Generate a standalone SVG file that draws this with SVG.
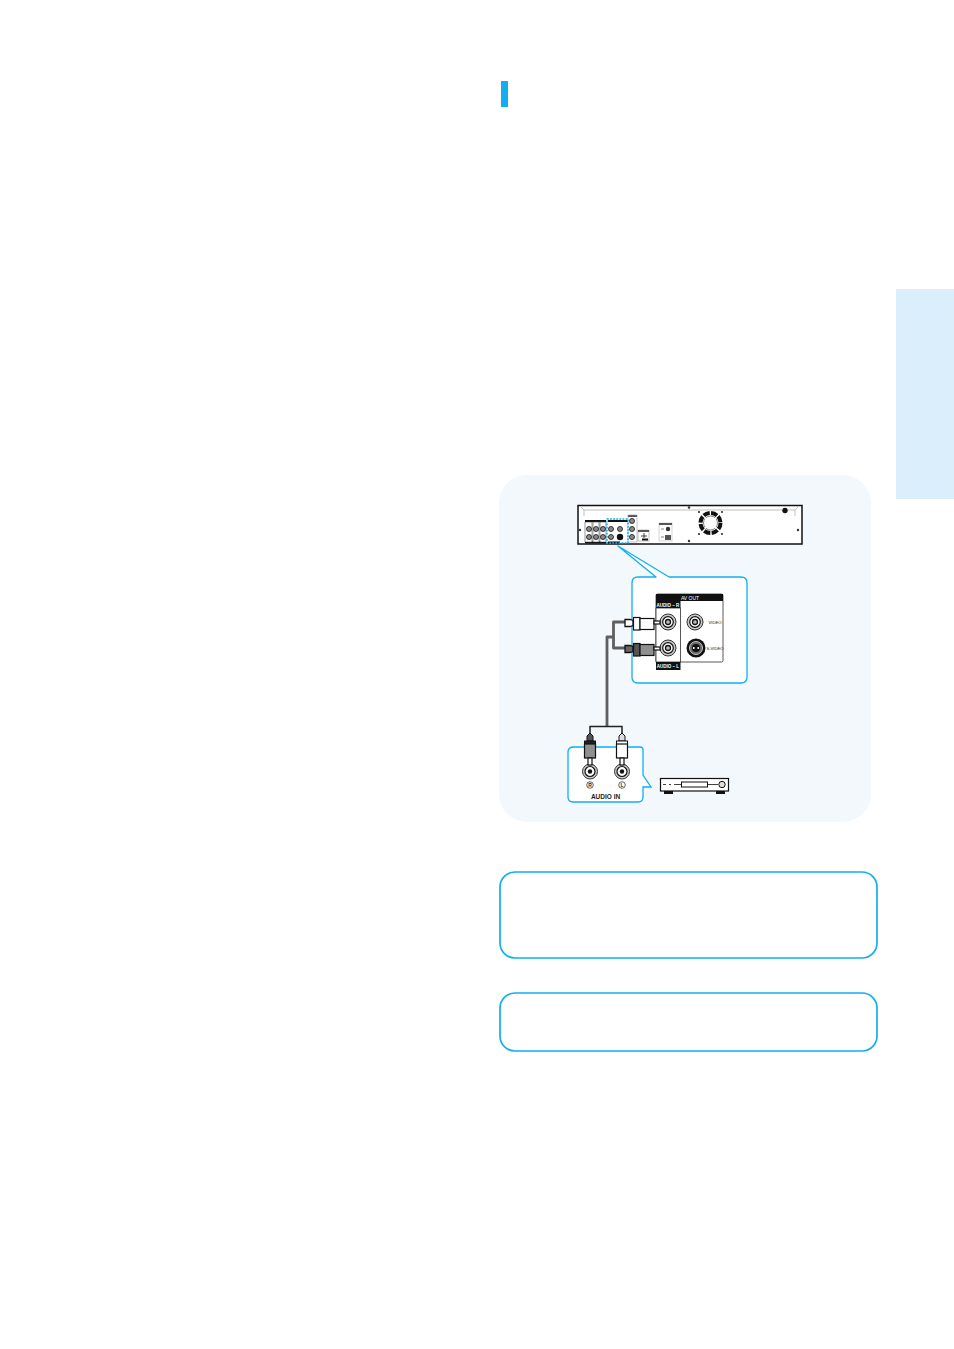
<svg xmlns="http://www.w3.org/2000/svg" width="954" height="1349" viewBox="0 0 954 1349">
<style>
text{font-family:"Liberation Sans",Arial,sans-serif}
.bluew{fill:none;stroke:#12aeef;stroke-width:1.7}
.k{fill:none;stroke:#111;stroke-width:.8}
.kk{fill:#111;stroke:none}
.cable{fill:none;stroke:#5f5f5f;stroke-width:2.800;stroke-linejoin:round}
.jo{fill:#c8c8c8;stroke:#333;stroke-width:1}
.ji{fill:#fff;stroke:#111;stroke-width:1.200}
.jc{fill:#bbb;stroke:#111;stroke-width:1.300}
.wplug{fill:#fff;stroke:#111;stroke-width:1.200}
.gplug{fill:#8f8f8f;stroke:#111;stroke-width:1.200}
.scr{fill:#333}
.p{fill:#8a8a8a;stroke:#111;stroke-width:.8}
</style>
<rect width="954" height="1349" fill="#fff"/>
<g id="section-bar"><rect x="501" y="81" width="7" height="26" fill="#12aeef"/></g>
<g id="side-tab"><rect x="896" y="289" width="58" height="210" fill="#dbeefb"/></g>
<g id="panel"><rect x="499" y="475" width="372" height="347" rx="28" fill="#f2f8fc"/></g>
<g id="note-1"><rect x="500" y="872" width="377" height="86" rx="15" fill="#fff" class="bluew"/></g>
<g id="note-2"><rect x="500" y="993" width="377" height="58" rx="15" fill="#fff" class="bluew"/></g>

<g id="dvd-recorder">
<rect x="578" y="505.500" width="224" height="38.500" fill="#fff" stroke="#111" stroke-width="1.500"/>
<path d="M581 507L584 510H795L798 507M584 510V516M795 510V516" fill="none" stroke="#999" stroke-width=".6"/>
<circle cx="785" cy="510.500" r="2.700" class="kk"/>
<circle cx="689" cy="507.500" r="1.200" class="scr"/><circle cx="689" cy="541" r="1.200" class="scr"/>
<circle cx="580" cy="530" r="1.200" class="scr"/><circle cx="798" cy="530" r="1.200" class="scr"/>
<rect x="585" y="520" width="21" height="2" class="kk"/>
<rect x="585" y="541.500" width="21" height="2" class="kk"/>
<rect x="585" y="522" width="7" height="20" fill="#fff" stroke="#333" stroke-width=".5"/>
<rect x="593" y="522" width="6" height="20" fill="#fff" stroke="#333" stroke-width=".5"/>
<rect x="600" y="522" width="6" height="20" fill="#fff" stroke="#333" stroke-width=".5"/>
<g class="p">
<circle cx="589" cy="529" r="2.500"/><circle cx="589" cy="537" r="2.500"/>
<circle cx="596" cy="529" r="2.500"/><circle cx="596" cy="537" r="2.500"/>
<circle cx="603" cy="529" r="2.500"/><circle cx="603" cy="537" r="2.500"/>
<circle cx="611" cy="529" r="2.500"/><circle cx="611" cy="537" r="2.500"/>
<circle cx="620" cy="529" r="2.500"/>
<circle cx="632" cy="521" r="2.500"/><circle cx="632" cy="529" r="2.500"/><circle cx="632" cy="537" r="2.500"/>
</g>
<circle cx="620" cy="537" r="3.200" class="kk"/>
<rect x="608" y="520" width="20" height="2" class="kk"/>
<rect x="608" y="541.500" width="12" height="2" class="kk"/>
<rect x="628" y="515" width="9" height="2" fill="#555"/>
<rect x="628" y="515" width="9" height="27" fill="none" stroke="#888" stroke-width=".5"/>
<rect x="638" y="530" width="11" height="11" fill="#fff" stroke="#888" stroke-width=".5"/>
<rect x="638" y="530" width="11" height="2" fill="#555"/>
<path d="M641 536h6M644 533v5" stroke="#111" stroke-width=".8"/>
<rect x="642" y="538.500" width="6" height="2" class="kk"/>
<rect x="659" y="523" width="13" height="18" fill="#fff" stroke="#aaa" stroke-width=".5"/>
<rect x="659" y="523" width="13" height="2" fill="#555"/>
<circle cx="668" cy="529" r="2.200" fill="#333"/>
<rect x="665" y="535" width="6" height="5" fill="#555"/>
<path d="M661 529h3M661 537h3" stroke="#333" stroke-width=".6"/>
<circle cx="710.500" cy="523" r="10" fill="none" stroke="#111" stroke-width="4" stroke-dasharray="6.500 1.400"/>
<circle cx="710.500" cy="523" r="7" fill="#fff" stroke="#333" stroke-width=".6"/>
<path d="M705 518l11 10M716 518l-11 10" stroke="#fff" stroke-width="1"/>
<circle cx="699" cy="512" r="1.100" class="scr"/><circle cx="722" cy="512" r="1.100" class="scr"/><circle cx="699" cy="534" r="1.100" class="scr"/><circle cx="722" cy="534" r="1.100" class="scr"/>
<rect x="607" y="519" width="21" height="24" fill="none" stroke="#12aeef" stroke-width="1.500" stroke-dasharray="1.800 1.300"/>
</g>

<g id="av-out-callout">
<path d="M618 546L656 577H638Q632 577 632 583V677Q632 683 638 683H741Q747 683 747 677V583Q747 577 741 577H669Z" fill="#fff" stroke="#12aeef" stroke-width="1.300" stroke-linejoin="round"/>
<rect x="656" y="594" width="67" height="68" rx="1.500" fill="#fff" stroke="#111" stroke-width=".7"/>
<rect x="656" y="594" width="67" height="7" class="kk"/>
<rect x="656" y="601" width="24.500" height="7" class="kk"/>
<rect x="656" y="662" width="24.500" height="8" class="kk"/>
<rect x="656" y="608" width="24.500" height="54" fill="#fff" stroke="#111" stroke-width=".7"/>
<text x="690" y="600" font-size="5" fill="#fff" text-anchor="middle">AV OUT</text>
<text x="668" y="606.500" font-size="4.500" font-weight="bold" fill="#fff" text-anchor="middle">AUDIO – R</text>
<text x="668" y="668" font-size="4.500" font-weight="bold" fill="#fff" text-anchor="middle">AUDIO – L</text>
<text x="715" y="624" font-size="4.200" fill="#222" text-anchor="middle">VIDEO</text>
<text x="715" y="650" font-size="4.200" fill="#222" text-anchor="middle">S-VIDEO</text>
<circle cx="668" cy="622" r="8" class="jo"/>
<circle cx="668" cy="622" r="5.300" class="ji"/>
<circle cx="668" cy="622" r="2.500" class="jc"/>
<circle cx="668" cy="648" r="8" class="jo"/>
<circle cx="668" cy="648" r="5.300" class="ji"/>
<circle cx="668" cy="648" r="2.500" class="jc"/>
<circle cx="695" cy="622" r="8" class="jo"/>
<circle cx="695" cy="622" r="5.300" class="ji"/>
<circle cx="695" cy="622" r="2.500" class="jc"/>
<circle cx="696" cy="648" r="9.500" class="kk"/>
<circle cx="696" cy="648" r="6.500" fill="#666" stroke="#eee" stroke-width=".8"/>
<circle cx="696" cy="648" r="4" class="kk"/>
<circle cx="693.800" cy="648" r="1" fill="#fff"/><circle cx="698.200" cy="648" r="1" fill="#fff"/>
</g>

<g id="connectors">
<path class="cable" d="M625 622H613.500V648H625"/>
<path class="cable" d="M613.500 637H607V726"/>
<path d="M590 735V726.500H622V735" fill="none" stroke="#222" stroke-width="1.500"/>
</g>

<g id="rca-plugs-av">
<path d="M625 619.500H630L633 620.500V625.500L630 626.500H625Z" fill="#fff" stroke="#111" stroke-width="1.300"/>
<rect x="633.500" y="617.500" width="6.500" height="12.500" class="wplug"/>
<rect x="640" y="618.500" width="14" height="11" class="wplug"/>
<rect x="654" y="621" width="6" height="3" class="wplug"/>
<path d="M625 645.500H630L633 646.500V651.500L630 652.500H625Z" fill="#666" stroke="#111" stroke-width="1.300"/>
<rect x="633.500" y="643.500" width="6.500" height="12.500" fill="#555" stroke="#111" stroke-width="1.200"/>
<rect x="640" y="644.500" width="14" height="11" class="gplug"/>
<rect x="654" y="647" width="6" height="3" class="wplug"/>
</g>

<g id="audio-in">
<path d="M574 747H640Q643 747 643 750V775L651 787H643V797Q643 802 638 802H573Q568 802 568 797V752Q568 747 574 747Z" fill="#fff" stroke="#12aeef" stroke-width="1.300"/>
<circle cx="590" cy="771.500" r="7.500" class="jo"/>
<circle cx="590" cy="771.500" r="5" class="ji"/>
<circle cx="590" cy="771.500" r="2.200" class="kk"/>
<circle cx="622" cy="771.500" r="7.500" class="jo"/>
<circle cx="622" cy="771.500" r="5" class="ji"/>
<circle cx="622" cy="771.500" r="2.200" class="kk"/>
<circle cx="590" cy="785" r="3.300" fill="#fff" stroke="#222" stroke-width=".7"/>
<circle cx="622" cy="785" r="3.300" fill="#fff" stroke="#222" stroke-width=".7"/>
<text x="590" y="787" font-size="5" font-weight="bold" fill="#222" text-anchor="middle">R</text>
<text x="622" y="787" font-size="5" font-weight="bold" fill="#222" text-anchor="middle">L</text>
<text x="605.500" y="799" font-size="6.500" font-weight="bold" fill="#222" text-anchor="middle">AUDIO IN</text>
</g>

<g id="rca-plugs-audio-in">
<path d="M587 741V736L590 733L593 736V741Z" fill="#555" stroke="#111" stroke-width="1"/>
<rect x="584.500" y="741" width="11" height="4" fill="#222" stroke="#111"/>
<rect x="584.500" y="744" width="11" height="14" class="gplug"/>
<rect x="588" y="758" width="4" height="7" class="wplug"/>
<path d="M619 741V736L622 733L625 736V741Z" fill="#ddd" stroke="#111" stroke-width="1"/>
<rect x="616.500" y="741" width="11" height="4" fill="#fff" stroke="#111"/>
<rect x="616.500" y="744" width="11" height="14" class="wplug"/>
<rect x="620" y="758" width="4" height="7" class="wplug"/>
</g>

<g id="audio-receiver">
<rect x="664" y="790" width="9" height="4" class="kk"/>
<rect x="716" y="790" width="9" height="4" class="kk"/>
<rect x="660.500" y="778.500" width="68" height="12.500" fill="#fff" stroke="#111" stroke-width="1.200"/>
<path d="M663 784.500H681M707 784.500H718" stroke="#111" stroke-width=".8"/>
<path d="M666 784.500h3M671 784.500h3" stroke="#fff" stroke-width="1"/>
<rect x="681.500" y="782" width="26" height="5" fill="#fff" stroke="#111"/>
<circle cx="722" cy="784.500" r="3.200" fill="#ddd" stroke="#111"/>
</g>
</svg>
